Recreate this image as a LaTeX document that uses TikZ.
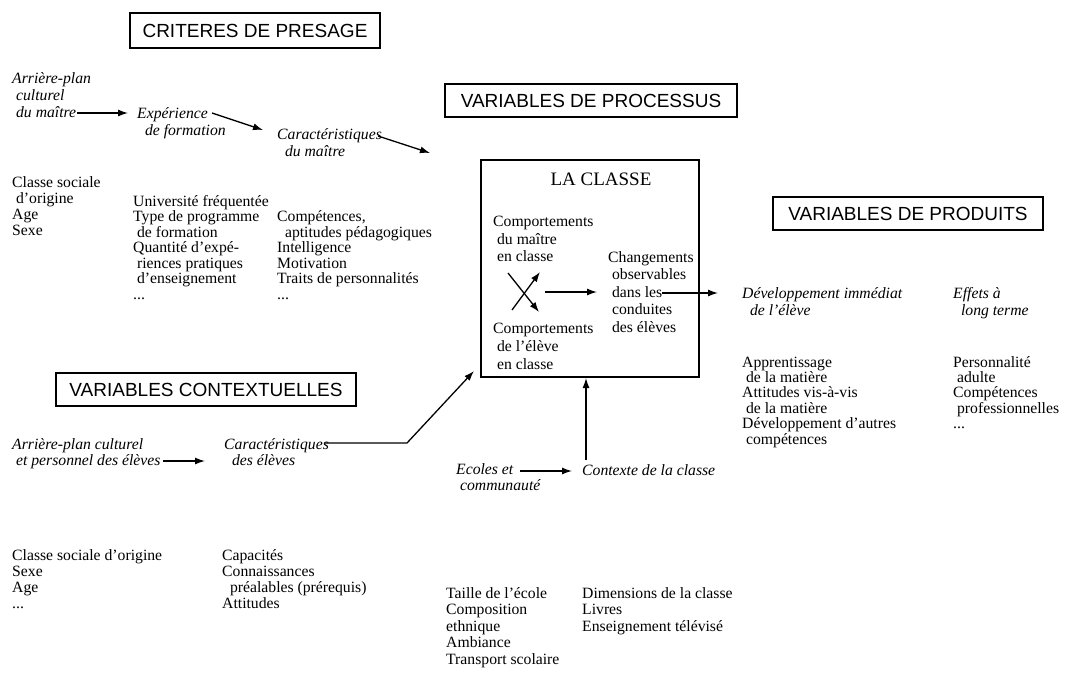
\documentclass[tikz,border=0pt]{standalone}
\usepackage{fontspec}
\setmainfont{Liberation Serif}
\newfontfamily\headfont{Liberation Sans}
\usetikzlibrary{arrows.meta}
\newcommand{\fs}[1]{\fontsize{15.7}{#1}\selectfont}
\tikzset{
  headbox/.style={draw, line width=1.3pt, font=\headfont\fontsize{19}{22}\selectfont, inner sep=0pt, anchor=center},
  txt/.style={align=left, inner sep=0pt, anchor=base west, font=\fs{15.5}},
  itx/.style={align=left, inner sep=0pt, anchor=base west, font=\fs{17}\itshape},
  arr/.style={line width=1.3pt, -{Latex[length=10pt,width=7pt]}},
}
\begin{document}
\begin{tikzpicture}[x=1pt,y=-1pt]
\useasboundingbox (0,0) rectangle (1072,673);
\fill[white] (0,0) rectangle (1072,673);

% heading boxes
\node[headbox, minimum width=250pt, minimum height=35pt] (presage) at (255,30.5) {CRITERES DE PRESAGE};
\node[headbox, minimum width=292pt, minimum height=33pt] (processus) at (591,100.5) {VARIABLES DE PROCESSUS};
\node[headbox, minimum width=270pt, minimum height=33pt] (produits) at (908,213.5) {VARIABLES DE PRODUITS};
\node[headbox, minimum width=300pt, minimum height=33pt] (contexte) at (206,389.5) {VARIABLES CONTEXTUELLES};

% la classe
\node[draw, line width=1.3pt, minimum width=218pt, minimum height=217pt, inner sep=0pt] (classe) at (590,268.5) {};
\node[font=\fontsize{19}{21}\selectfont, inner sep=0pt, anchor=base] (lacl) at (601,185) {LA CLASSE};

% presage (anchor = baseline of last line)
\node[itx] (arrmaitre) at (12,117) {Arrière-plan\\\ culturel\\\ du maître};
\node[itx] (experience) at (137,135) {Expérience\\\ \ de formation};
\node[itx] (caract) at (277,156) {Caractéristiques\\\ \ du maître};

\node[txt, font=\fs{16}] (origine) at (12,235) {Classe sociale\\\ d'origine\\Age\\Sexe};
\node[txt] (univ) at (133,299) {Université fréquentée\\Type de programme\\\ de formation\\Quantité d'expé-\\\ riences pratiques\\\ d'enseignement\\...};
\node[txt] (compet) at (277,299) {Compétences,\\\ \ aptitudes pédagogiques\\Intelligence\\Motivation\\Traits de personnalités\\...};

% processus
\node[txt, font=\fs{17.5}] (compmaitre) at (493,261.5) {Comportements\\\ du maître\\\ en classe};
\node[txt, font=\fs{18}] (compeleve) at (493,369) {Comportements\\\ de l'élève\\\ en classe};
\node[txt, font=\fs{17.5}] (changements) at (608,332) {Changements\\\ observables\\\ dans les\\\ conduites\\\ des élèves};

% produits
\node[itx] (devimm) at (742,315) {Développement immédiat\\\ \ de l'élève};
\node[itx] (effets) at (953,315) {Effets à\\\ \ long terme};
\node[txt, font=\fs{15.4}] (apprent) at (742,444) {Apprentissage\\\ de la matière\\Attitudes vis-à-vis\\\ de la matière\\Développement d'autres\\\ compétences};
\node[txt, font=\fs{15.4}] (personn) at (953,428.6) {Personnalité\\\ adulte\\Compétences\\\ professionnelles\\...};

% contextuelles
\node[itx, font=\fs{16}\itshape] (arreleves) at (12,465) {Arrière-plan culturel\\\ et personnel des élèves};
\node[itx, font=\fs{16}\itshape] (careleves) at (224,465) {Caractéristiques\\\ \ des élèves};
\node[itx, font=\fs{16}\itshape] (ecoles) at (456,490) {Ecoles et\\\ communauté};
\node[itx] (ctxclasse) at (582,475) {Contexte de la classe};

\node[txt, font=\fs{15.7}] (origine2) at (12,608) {Classe sociale d'origine\\Sexe\\Age\\...};
\node[txt, font=\fs{15.7}] (capac) at (222,608) {Capacités\\Connaissances\\\ \ préalables (prérequis)\\Attitudes};
\node[txt, font=\fs{16.5}] (taille) at (446,664) {Taille de l'école\\Composition\\ethnique\\Ambiance\\Transport scolaire};
\node[txt, font=\fs{16.5}] (dimens) at (582,631) {Dimensions de la classe\\Livres\\Enseignement télévisé};

% connector end points
\coordinate (a1s) at (77,113);   \coordinate (a1e) at (128,113);
\coordinate (a2s) at (212,113);  \coordinate (a2e) at (263,130);
\coordinate (a3s) at (378,136);  \coordinate (a3e) at (430,153);
\coordinate (x1s) at (512,310);  \coordinate (x1e) at (540,272);
\coordinate (x2s) at (508,273);  \coordinate (x2e) at (539,312);
\coordinate (a5s) at (545,292);  \coordinate (a5e) at (597,292);
\coordinate (a6s) at (662,293);  \coordinate (a6e) at (718,293);
\coordinate (a7s) at (163,461);  \coordinate (a7e) at (205,461);
\coordinate (a8s) at (325,443);  \coordinate (a8m) at (407,443); \coordinate (a8e) at (474,371);
\coordinate (a9s) at (520,471);  \coordinate (a9e) at (572,471);
\coordinate (a10s) at (586,460); \coordinate (a10e) at (586,378);

\draw[arr] (a1s) -- (a1e);
\draw[arr] (a2s) -- (a2e);
\draw[arr] (a3s) -- (a3e);
\draw[arr] (x1s) -- (x1e);
\draw[arr] (x2s) -- (x2e);
\draw[arr] (a5s) -- (a5e);
\draw[arr] (a6s) -- (a6e);
\draw[arr] (a7s) -- (a7e);
\draw[arr] (a8s) -- (a8m) -- (a8e);
\draw[arr] (a9s) -- (a9e);
\draw[arr] (a10s) -- (a10e);
\end{tikzpicture}
\end{document}
